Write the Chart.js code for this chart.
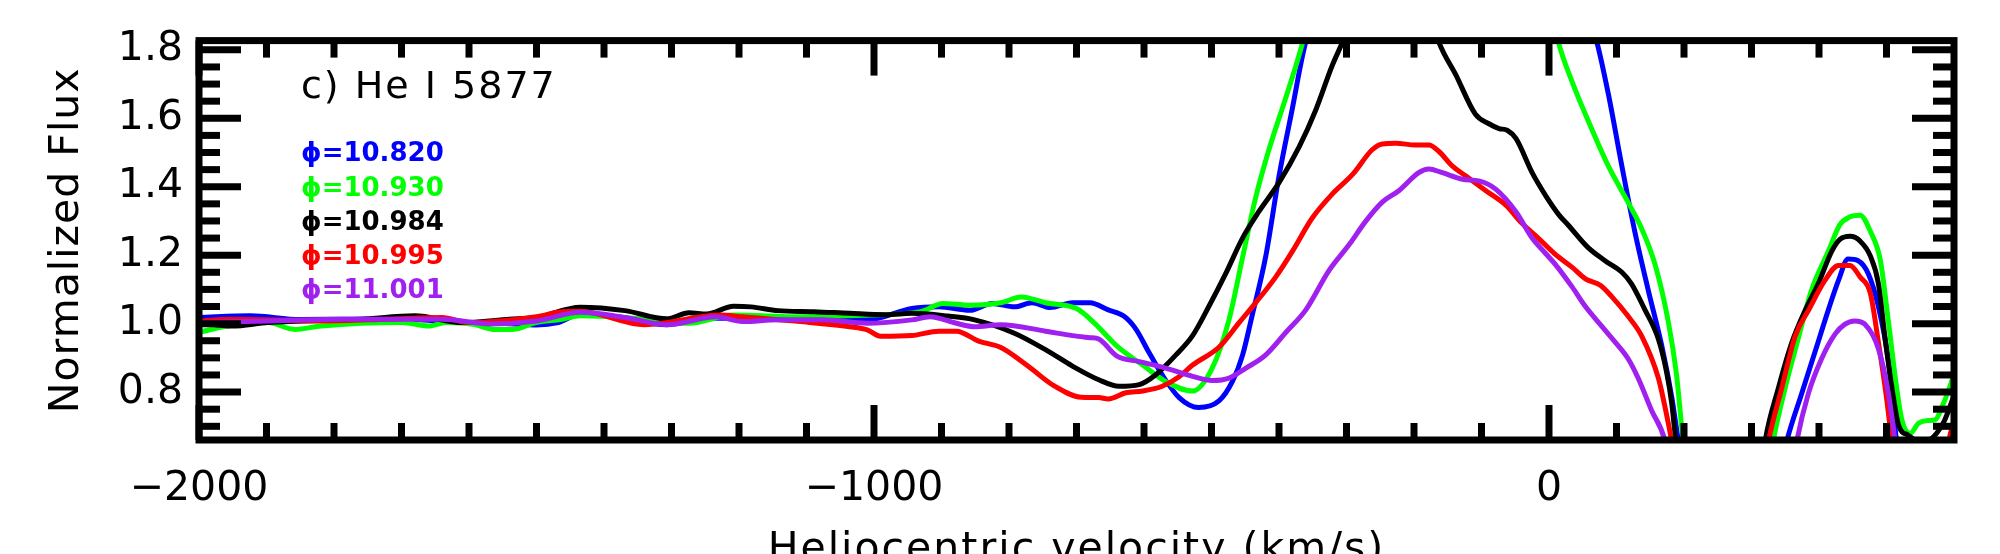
<!DOCTYPE html>
<html>
<head>
<meta charset="utf-8">
<script src="https://cdn.jsdelivr.net/npm/chart.js@4.4.0/dist/chart.umd.min.js"></script>
<style>
  html, body { margin: 0; padding: 0; background: #fff; }
  canvas { display: block; }
</style>
</head>
<body>
<canvas id="myChart" width="2000" height="554"></canvas>
<script>
// phases shown in the legend, same order as the series below
const phaseLabels = ['10.820', '10.930', '10.984', '10.995', '11.001'];
const lineColors = ['#0000ff', '#00ff00', '#000000', '#ff0000', '#a020f0'];

// heliocentric velocity (km/s) and normalized flux
const blueVel = [-2000,-1924,-1850,-1760,-1700,-1620,-1540,-1500,-1468,-1435,-1380,-1307,-1241,-1142,-1076,-1010,-944,-904,-858,-825,-792,-766,-739,-706,-680,-653,-630,-612,-593,-573,-548,-519,-489,-469,-454,-440,-420,-400,-380,-365,-350,-200,50,71,88,108,127,147,167,182,192,210,270,335,352,374,394,414,429,443,458,473,488,503,515,530,600];
const blueFlux = [1.018,1.023,1.012,1.013,1.013,1.005,1.000,0.996,1.003,1.028,1.020,0.997,1.016,1.016,1.011,1.011,1.044,1.049,1.039,1.059,1.049,1.061,1.047,1.061,1.061,1.040,1.022,0.984,0.917,0.850,0.784,0.755,0.774,0.831,0.908,1.022,1.193,1.431,1.631,1.784,1.90,2.6,1.95,1.822,1.670,1.460,1.270,1.098,0.936,0.784,0.655,0.50,0.40,0.50,0.655,0.794,0.917,1.041,1.127,1.189,1.184,1.146,1.050,0.889,0.655,0.50,0.66];

const greenVel = [-2000,-1951,-1898,-1858,-1819,-1699,-1660,-1634,-1594,-1561,-1535,-1501,-1462,-1435,-1369,-1274,-1208,-1109,-1010,-931,-898,-858,-812,-782,-746,-700,-673,-640,-602,-568,-528,-499,-474,-454,-435,-415,-390,-365,-350,-150,0,14,34,58,88,117,137,157,177,189,199,215,270,320,332,350,369,389,414,431,446,461,476,491,503,515,523,535,547,562,572,584,600];
const greenFlux = [0.975,0.995,1.003,0.983,0.993,1.003,0.993,1.003,0.998,0.983,0.983,1.003,1.013,1.023,1.018,1.001,1.025,1.020,1.025,1.035,1.059,1.054,1.061,1.078,1.061,1.044,1.001,0.934,0.879,0.831,0.803,0.870,1.012,1.193,1.365,1.508,1.660,1.822,1.95,2.6,1.95,1.822,1.708,1.593,1.460,1.355,1.279,1.174,1.003,0.850,0.655,0.50,0.40,0.50,0.655,0.813,0.955,1.098,1.212,1.289,1.312,1.317,1.270,1.184,1.003,0.813,0.717,0.679,0.708,0.717,0.719,0.765,0.850];

const blackVel = [-2000,-1951,-1898,-1760,-1680,-1610,-1540,-1500,-1435,-1369,-1307,-1274,-1248,-1208,-1182,-1142,-1089,-1036,-983,-944,-891,-851,-792,-746,-706,-667,-637,-607,-583,-553,-528,-504,-479,-454,-430,-400,-370,-346,-321,-306,-290,-235,-175,-163,-138,-109,-89,-74,-62,-49,-25,-5,15,28,58,83,108,122,142,162,174,182,188,200,260,310,320,340,360,380,399,419,431,446,461,476,488,498,508,518,532,547,562,574,586,600];
const blackFlux = [1.003,0.993,1.003,1.013,1.023,1.003,1.013,1.018,1.048,1.038,1.014,1.032,1.028,1.051,1.049,1.038,1.035,1.030,1.026,1.030,1.022,1.011,0.972,0.924,0.876,0.836,0.817,0.822,0.850,0.908,0.965,1.050,1.146,1.250,1.327,1.412,1.517,1.622,1.755,1.822,1.90,2.0,1.90,1.822,1.727,1.612,1.584,1.570,1.565,1.541,1.441,1.374,1.317,1.289,1.222,1.184,1.150,1.117,1.041,0.955,0.860,0.765,0.655,0.50,0.40,0.50,0.655,0.813,0.946,1.041,1.117,1.212,1.246,1.255,1.241,1.198,1.117,0.955,0.813,0.703,0.674,0.658,0.660,0.679,0.717,0.790];

const redVel = [-2000,-1950,-1820,-1720,-1640,-1600,-1500,-1468,-1435,-1340,-1228,-1195,-1109,-1036,-1010,-990,-944,-904,-878,-845,-812,-772,-733,-693,-667,-653,-627,-602,-573,-548,-528,-489,-459,-435,-405,-380,-351,-321,-291,-262,-247,-227,-198,-178,-163,-143,-123,-94,-64,-40,-16,9,34,54,76,93,117,137,162,172,182,195,250,312,325,345,365,385,409,429,446,461,476,488,500,508,520,580,592,600];
const redFlux = [1.008,1.013,1.008,1.013,1.018,1.003,1.020,1.033,1.036,0.997,1.025,1.020,1.006,0.991,0.982,0.963,0.965,0.978,0.978,0.949,0.930,0.876,0.818,0.785,0.784,0.780,0.798,0.803,0.817,0.845,0.879,0.931,1.003,1.060,1.136,1.212,1.308,1.379,1.436,1.508,1.525,1.527,1.522,1.522,1.503,1.460,1.431,1.389,1.346,1.293,1.250,1.203,1.165,1.131,1.112,1.079,1.022,0.965,0.841,0.755,0.655,0.50,0.40,0.50,0.655,0.813,0.965,1.041,1.127,1.170,1.170,1.136,1.089,0.946,0.784,0.655,0.50,0.50,0.655,0.717];

const purpleVel = [-2000,-1898,-1790,-1720,-1640,-1570,-1500,-1435,-1369,-1307,-1234,-1195,-1142,-1076,-1010,-944,-917,-878,-851,-812,-746,-706,-680,-667,-640,-607,-568,-528,-499,-474,-449,-420,-390,-360,-326,-296,-272,-247,-222,-193,-178,-158,-128,-104,-79,-49,-25,-5,9,34,54,78,98,117,132,152,172,185,260,355,367,384,404,424,438,453,468,488,503,513,525,600];
const purpleFlux = [1.003,1.008,1.013,1.013,1.013,0.999,1.008,1.033,1.018,0.997,1.020,1.006,1.011,1.011,1.001,1.011,1.020,1.001,0.991,0.997,0.978,0.965,0.959,0.955,0.905,0.889,0.870,0.846,0.834,0.841,0.870,0.908,0.974,1.041,1.155,1.231,1.298,1.355,1.389,1.441,1.452,1.441,1.422,1.417,1.393,1.327,1.250,1.205,1.174,1.108,1.050,0.993,0.946,0.898,0.841,0.746,0.655,0.50,0.40,0.50,0.655,0.794,0.898,0.970,0.998,1.008,0.998,0.927,0.794,0.655,0.50,0.50];

// axis ticks
const xMajorTicks = [-2000, -1000, 0];
const xMinorTicks = [-1900,-1800,-1700,-1600,-1500,-1400,-1300,-1200,-1100,-900,-800,-700,-600,-500,-400,-300,-200,-100,100,200,300,400,500];
const yMajorTicks = [0.8, 1.0, 1.2, 1.4, 1.6, 1.8];
const yMinorTicks = [0.70,0.75,0.85,0.90,0.95,1.05,1.10,1.15,1.25,1.30,1.35,1.45,1.50,1.55,1.65,1.70,1.75];

const panelTitle = 'c) He I 5877';
const xTitle = 'Heliocentric velocity (km/s)';
const yTitle = 'Normalized Flux';

const FONT = '"DejaVu Sans", "Liberation Sans", sans-serif';

function pts(vel, flux) {
    return vel.map((v, i) => ({ x: v, y: flux[i] }));
}

const seriesVel = [blueVel, greenVel, blackVel, redVel, purpleVel];
const seriesFlux = [blueFlux, greenFlux, blackFlux, redFlux, purpleFlux];

const datasets = seriesVel.map((vel, i) => ({
    label: phaseLabels[i],
    data: pts(vel, seriesFlux[i]),
    borderColor: lineColors[i],
    borderWidth: 5,
    pointRadius: 0,
    cubicInterpolationMode: 'monotone',
    clip: 0,
    order: 5 - i
}));

// thick box, inward ticks on all four sides, annotations and axis titles
const framePlugin = {
    id: 'frame',
    afterDraw(chart) {
        const { ctx, chartArea: a, scales: { x, y } } = chart;
        ctx.save();
        ctx.strokeStyle = '#000';
        ctx.lineWidth = 7;
        ctx.lineCap = 'butt';
        const seg = (x1, y1, x2, y2) => {
            ctx.beginPath(); ctx.moveTo(x1, y1); ctx.lineTo(x2, y2); ctx.stroke();
        };
        xMajorTicks.concat(xMinorTicks).forEach(v => {
            const px = x.getPixelForValue(v);
            const len = xMajorTicks.includes(v) ? 35 : 17;
            seg(px, a.top, px, a.top + len);
            seg(px, a.bottom, px, a.bottom - len);
        });
        yMajorTicks.concat(yMinorTicks).forEach(v => {
            const py = y.getPixelForValue(v);
            const len = yMajorTicks.includes(v) ? 42 : 21;
            seg(a.left, py, a.left + len, py);
            seg(a.right, py, a.right - len, py);
        });
        ctx.strokeRect(a.left, a.top, a.right - a.left, a.bottom - a.top);

        // panel title
        ctx.fillStyle = '#000';
        ctx.textAlign = 'left';
        ctx.textBaseline = 'alphabetic';
        ctx.letterSpacing = '2px';
        ctx.font = '38px ' + FONT;
        const lx = x.getPixelForValue(-1849);
        ctx.fillText(panelTitle, lx, y.getPixelForValue(1.66));

        // phase legend
        ctx.letterSpacing = '0px';
        ctx.font = 'bold 26px ' + FONT;
        phaseLabels.forEach((p, i) => {
            ctx.fillStyle = lineColors[i];
            ctx.fillText('\u03d5=' + p, lx, y.getPixelForValue(1.474 - 0.1 * i));
        });

        // axis titles
        ctx.fillStyle = '#000';
        ctx.font = '41px ' + FONT;
        ctx.letterSpacing = '2px';
        ctx.textAlign = 'center';
        ctx.fillText(xTitle, (a.left + a.right) / 2, 561);
        ctx.letterSpacing = '1px';
        ctx.translate(67, (a.top + a.bottom) / 2);
        ctx.rotate(-Math.PI / 2);
        ctx.textBaseline = 'middle';
        ctx.fillText(yTitle, 0, 0);
        ctx.restore();
    }
};

const ctx = document.getElementById('myChart').getContext('2d');
const myChart = new Chart(ctx, {
    type: 'line',
    data: { datasets: datasets },
    plugins: [framePlugin],
    options: {
        responsive: false,
        animation: false,
        devicePixelRatio: 1,
        layout: { padding: { top: 31.5, right: 46, left: 0, bottom: 0 } },
        scales: {
            x: {
                type: 'linear',
                min: -2000,
                max: 600,
                grid: { display: false, drawTicks: false },
                border: { display: false },
                afterFit: (s) => { s.height = 114; },
                afterBuildTicks: (s) => { s.ticks = xMajorTicks.map(v => ({ value: v })); },
                ticks: {
                    autoSkip: false,
                    maxRotation: 0,
                    padding: 25,
                    color: '#000',
                    font: { family: FONT, size: 41 },
                    callback: (v) => v < 0 ? '\u2212' + Math.abs(v) : String(v)
                }
            },
            y: {
                min: 0.66,
                max: 1.827,
                grid: { display: false, drawTicks: false },
                border: { display: false },
                afterFit: (s) => { s.width = 199; },
                afterBuildTicks: (s) => { s.ticks = yMajorTicks.map(v => ({ value: v })); },
                ticks: {
                    padding: 16,
                    color: '#000',
                    font: { family: FONT, size: 41 },
                    callback: (v) => Number(v).toFixed(1)
                }
            }
        },
        plugins: {
            legend: { display: false },
            tooltip: { enabled: false }
        }
    }
});
</script>
</body>
</html>
